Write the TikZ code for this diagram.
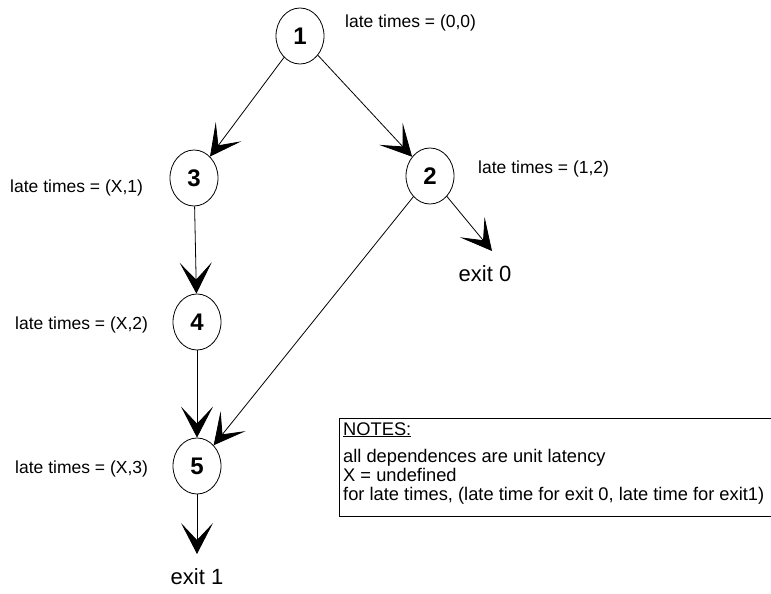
\documentclass[tikz,border=0pt]{standalone}
\usepackage{fontspec}
\setmainfont{Liberation Sans}
\usetikzlibrary{shapes.geometric,arrows.meta}
\begin{document}
\begin{tikzpicture}[x=1pt,y=-1pt,
  vnode/.style={draw,ellipse,line width=0.8pt,minimum width=48pt,minimum height=56pt,inner sep=0pt,font=\fontsize{24}{26}\selectfont\bfseries},
  lbl/.style={anchor=west,inner sep=0pt,font=\fontsize{17.5}{20}\selectfont},
  exitlbl/.style={inner sep=0pt,font=\fontsize{22}{24}\selectfont},
  conn/.style={line width=0.8pt,-{Stealth[length=31pt,width=32pt,inset=17pt]}},
  notetxt/.style={anchor=base west,inner sep=0pt,font=\fontsize{18.3}{20}\selectfont}]
\useasboundingbox (0,0) rectangle (771,594);
\node[vnode] (n1) at (300,36) {1};
\node[vnode] (n3) at (194,178) {3};
\node[vnode] (n2) at (430,176) {2};
\node[vnode] (n4) at (197,322) {4};
\node[vnode] (n5) at (197,466) {5};
\node[lbl] (l1) at (345,23) {late times = (0,0)};
\node[lbl] (l3) at (10,188) {late times = (X,1)};
\node[lbl] (l2) at (478,169) {late times = (1,2)};
\node[lbl] (l4) at (15,325) {late times = (X,2)};
\node[lbl] (l5) at (15,469) {late times = (X,3)};
\node[exitlbl] (x0) at (485,274) {exit 0};
\node[exitlbl] (x1) at (197,577) {exit 1};
\coordinate (c0) at (492,251);
\coordinate (c1) at (197,554);
\draw[conn] (n1) -- (n3);
\draw[conn] (n1) -- (n2);
\draw[conn] (n2) -- (c0);
\draw[conn] (n3) -- (n4);
\draw[conn] (n4) -- (n5);
\draw[conn] (n2) -- (n5);
\draw[conn] (n5) -- (c1);
\draw[line width=0.8pt] (772,418) -- (339,418) -- (339,516) -- (772,516);
\node[notetxt] (t0) at (343,435) {\underline{NOTES:}};
\node[notetxt] (t1) at (343,462) {all dependences are unit latency};
\node[notetxt] (t2) at (343,481) {X = undefined};
\node[notetxt] (t3) at (343,500) {for late times, (late time for exit 0, late time for exit1)};
\end{tikzpicture}
\end{document}
